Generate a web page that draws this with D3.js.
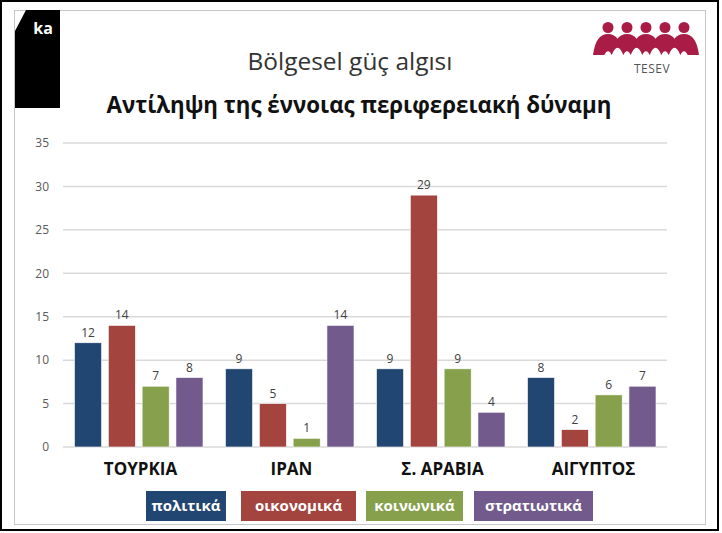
<!DOCTYPE html>
<html><head><meta charset="utf-8">
<script src="https://cdn.jsdelivr.net/npm/d3@7"></script>
<style>body{margin:0;background:#fff}svg{display:block}</style>
</head><body>
<script>
const categories = ["ΤΟΥΡΚΙΑ", "ΙΡΑΝ", "Σ. ΑΡΑΒΙΑ", "ΑΙΓΥΠΤΟΣ"];
const seriesNames = ["πολιτικά", "οικονομικά", "κοινωνικά", "στρατιωτικά"];
const politika    = [12, 9, 9, 8];
const oikonomika  = [14, 5, 29, 2];
const koinonika   = [7, 1, 9, 6];
const stratiotika = [8, 14, 4, 7];
const yTicks = [0, 5, 10, 15, 20, 25, 30, 35];
const colors = ["#214671", "#A4443F", "#87A04C", "#725B8C"];
const seriesValues = [politika, oikonomika, koinonika, stratiotika];

const W = 722, H = 533;
const svg = d3.select("body").append("svg").attr("width", W).attr("height", H);
svg.append("rect").attr("width", W).attr("height", H).attr("fill", "#fff");
// outer black frame and inner grey frame
svg.append("rect").attr("x", 1).attr("y", 1).attr("width", 717).attr("height", 529)
  .attr("fill", "none").attr("stroke", "#000").attr("stroke-width", 2);
svg.append("rect").attr("x", 14.5).attr("y", 10.5).attr("width", 691).attr("height", 514)
  .attr("fill", "none").attr("stroke", "#c8c8c8").attr("stroke-width", 1);

// ka logo
svg.append("path").attr("d", "M15,31 L26,10 L60,10 L60,108 L15,108 Z").attr("fill", "#000");
svg.append("text").attr("x", 43).attr("y", 34).attr("text-anchor", "middle")
  .attr("font-family", "Open Sans, sans-serif").attr("font-weight", 700).attr("font-size", 16)
  .attr("fill", "#fff").text("ka");

// TESEV logo
const logo = svg.append("g");
const heads = [608, 627, 646, 665, 684];
heads.forEach(cx => {
  logo.append("circle").attr("cx", cx).attr("cy", 27.5).attr("r", 5.5).attr("fill", "#A81C45");
  logo.append("path").attr("d", `M${cx-15},55 C${cx-13},40 ${cx-8},34 ${cx},34 C${cx+8},34 ${cx+13},40 ${cx+15},55 Z`).attr("fill", "#A81C45");
});
heads.slice(0, -1).forEach(cx => {
  const m = cx + 9.5;
  logo.append("path").attr("d", `M${m-6},55.5 Q${m},40 ${m+6},55.5 Z`).attr("fill", "#fff");
});
heads.forEach(cx => {
  logo.append("path").attr("d", `M${cx-4},55.5 Q${cx},47 ${cx+4},55.5 Z`).attr("fill", "#fff");
});
svg.append("text").attr("x", 652).attr("y", 73).attr("text-anchor", "middle")
  .attr("font-family", "Open Sans, sans-serif").attr("font-size", 12).attr("fill", "#555")
  .attr("letter-spacing", 0.5).text("TESEV");

function fit(sel, target) {
  const n = sel.node();
  const w = n.getComputedTextLength();
  const fs = parseFloat(sel.attr("font-size"));
  sel.attr("font-size", fs * target / w);
}

// titles
const t1 = svg.append("text").attr("x", 350).attr("y", 70).attr("text-anchor", "middle")
  .attr("font-family", "Open Sans, sans-serif").attr("font-size", 22).attr("fill", "#333")
  .text("Bölgesel güç algısı");
fit(t1, 205);
const t2 = svg.append("text").attr("x", 359).attr("y", 113).attr("text-anchor", "middle")
  .attr("font-family", "Open Sans, sans-serif").attr("font-weight", 700).attr("font-size", 20).attr("fill", "#111")
  .text("Αντίληψη της έννοιας περιφερειακή δύναμη");
fit(t2, 505);

// scales
const y = d3.scaleLinear().domain([0, 35]).range([447, 143]);
const x0 = d3.scaleBand().domain(categories).range([63, 667]).paddingInner(0).paddingOuter(0);
const x1 = d3.scaleBand().domain(seriesNames).range([11.5, x0.bandwidth() - 11]).paddingInner(0.2).paddingOuter(0);

// gridlines
svg.append("g").selectAll("line").data(yTicks).join("line")
  .attr("x1", 63).attr("x2", 667).attr("y1", d => y(d)).attr("y2", d => y(d))
  .attr("stroke", "#d9d9d9").attr("stroke-width", 1.5);

// y axis labels
const yAxis = d3.axisLeft(y).tickValues(yTicks).tickSize(0).tickPadding(0);
const ya = svg.append("g").attr("transform", "translate(49,0)").call(yAxis);
ya.select(".domain").remove();
ya.selectAll("text").attr("font-family", "Open Sans, sans-serif").attr("font-size", 12).attr("fill", "#595959");

// bars
const rows = categories.map((c, i) => ({ c, vals: seriesNames.map((s, j) => ({ s, j, v: seriesValues[j][i] })) }));
const g = svg.append("g").selectAll("g").data(rows).join("g")
  .attr("transform", d => `translate(${x0(d.c)},0)`);
g.selectAll("rect").data(d => d.vals).join("rect")
  .attr("x", d => x1(d.s)).attr("width", x1.bandwidth())
  .attr("y", d => y(d.v)).attr("height", d => y(0) - y(d.v))
  .attr("fill", d => colors[d.j]).attr("stroke", "#fff").attr("stroke-width", 0.6);
g.selectAll("text").data(d => d.vals).join("text")
  .attr("x", d => x1(d.s) + x1.bandwidth() / 2).attr("y", d => y(d.v) - 6)
  .attr("text-anchor", "middle").attr("font-family", "Open Sans, sans-serif")
  .attr("font-size", 12).attr("fill", "#404040").text(d => d.v);

// category labels
svg.append("g").selectAll("text").data(categories).join("text")
  .attr("x", d => x0(d) + x0.bandwidth() / 2 + 2).attr("y", 475)
  .attr("text-anchor", "middle").attr("font-family", "Open Sans, sans-serif")
  .attr("font-weight", 700).attr("font-size", 17).attr("fill", "#111").text(d => d);

// legend
const legendBoxes = [[146, 226], [241, 356], [366, 463], [474, 593]];
const lg = svg.append("g").selectAll("g").data(seriesNames).join("g");
lg.append("rect").attr("x", (d, i) => legendBoxes[i][0]).attr("y", 491)
  .attr("width", (d, i) => legendBoxes[i][1] - legendBoxes[i][0]).attr("height", 30)
  .attr("fill", (d, i) => colors[i]);
lg.append("text").attr("x", (d, i) => (legendBoxes[i][0] + legendBoxes[i][1]) / 2).attr("y", 511)
  .attr("text-anchor", "middle").attr("font-family", "Open Sans, sans-serif")
  .attr("font-weight", 700).attr("font-size", 15).attr("fill", "#fff").text(d => d);
</script>
</body></html>
